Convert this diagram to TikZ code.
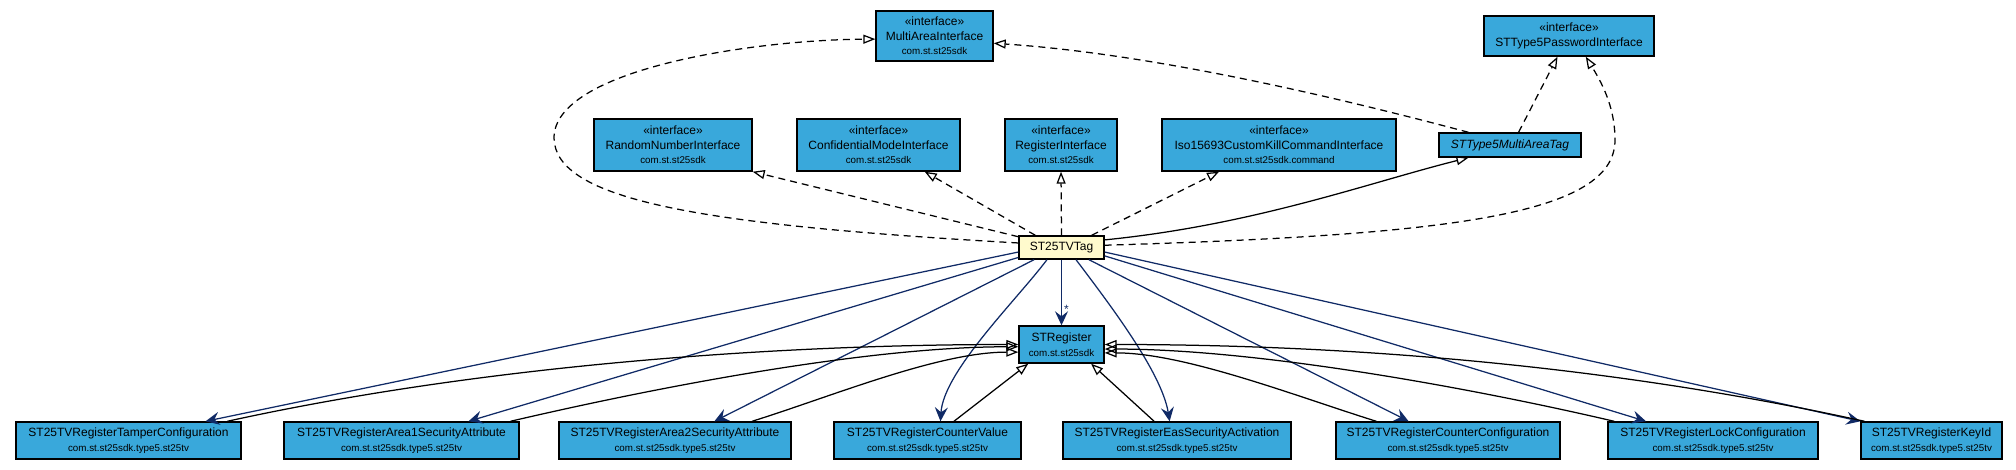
\documentclass[tikz,border=0pt]{standalone}
\usepackage{fontspec}
\setmainfont{Liberation Sans}
\usepackage{tikz}
\usetikzlibrary{arrows.meta}
\definecolor{clsblue}{RGB}{57,168,219}
\definecolor{tagyel}{RGB}{255,250,205}
\definecolor{ascnavy}{RGB}{16,42,102}
\newcommand{\pkg}[1]{{\fontsize{9.8}{12}\selectfont #1}}
\newcommand{\stereo}{«interface»}
\newcommand{\tvpkg}{\pkg{com.st.st25sdk.type5.st25tv}}
\tikzset{
  cls/.style={draw=black, line width=1.4pt, fill=clsblue, align=center, inner sep=0pt,
    minimum height=37pt, font=\fontsize{12}{14.5}\selectfont},
  ifc/.style={cls, minimum height=52pt},
  tagcls/.style={cls, fill=tagyel, minimum height=23pt},
  real/.style={dash pattern=on 7pt off 5pt, line width=1.25pt, -{Triangle[open, length=12pt, width=9pt]}},
  gen/.style={line width=1.25pt, -{Triangle[open, length=12pt, width=9pt]}},
  asc/.style={ascnavy, line width=1.25pt, -{Stealth[length=14pt, width=13pt, inset=5pt]}},
  mult/.style={font=\fontsize{12}{12}\selectfont, inner sep=2pt, ascnavy},
}
\begin{document}
\begin{tikzpicture}[x=1pt, y=-1pt]
  \useasboundingbox (0,0) rectangle (2016,469);
  \node[ifc, minimum width=117pt, minimum height=50pt] (mai) at (934.5,36) {\stereo\\MultiAreaInterface\\\pkg{com.st.st25sdk}};
  \node[cls, minimum width=170pt, minimum height=40pt] (pwd) at (1569,36) {\stereo\\STType5PasswordInterface};
  \node[cls, minimum width=142pt, minimum height=24pt, font=\fontsize{12}{14.5}\selectfont\itshape] (matag) at (1510,145) {STType5MultiAreaTag};
  \node[ifc, minimum width=158pt] (rni) at (673,145) {\stereo\\RandomNumberInterface\\\pkg{com.st.st25sdk}};
  \node[ifc, minimum width=163pt] (cmi) at (878.5,145) {\stereo\\ConfidentialModeInterface\\\pkg{com.st.st25sdk}};
  \node[ifc, minimum width=112pt] (rgi) at (1061,145) {\stereo\\RegisterInterface\\\pkg{com.st.st25sdk}};
  \node[ifc, minimum width=234pt] (iso) at (1279,145) {\stereo\\Iso15693CustomKillCommandInterface\\\pkg{com.st.st25sdk.command}};
  \node[tagcls, minimum width=85pt] (tag) at (1061.5,247.5) {ST25TVTag};
  \node[cls, minimum width=85pt] (streg) at (1061.5,344.5) {STRegister\\\pkg{com.st.st25sdk}};
  \node[cls, minimum width=225pt] (tamper) at (128.5,440.5) {ST25TVRegisterTamperConfiguration\\\tvpkg};
  \node[cls, minimum width=235pt] (area1) at (401.5,440.5) {ST25TVRegisterArea1SecurityAttribute\\\tvpkg};
  \node[cls, minimum width=232pt] (area2) at (675,440.5) {ST25TVRegisterArea2SecurityAttribute\\\tvpkg};
  \node[cls, minimum width=187pt] (cval) at (927.5,440.5) {ST25TVRegisterCounterValue\\\tvpkg};
  \node[cls, minimum width=228pt] (eas) at (1177,440.5) {ST25TVRegisterEasSecurityActivation\\\tvpkg};
  \node[cls, minimum width=224pt] (ccfg) at (1448,440.5) {ST25TVRegisterCounterConfiguration\\\tvpkg};
  \node[cls, minimum width=210pt] (lock) at (1713,440.5) {ST25TVRegisterLockConfiguration\\\tvpkg};
  \node[cls, minimum width=141pt] (keyid) at (1931.5,440.5) {ST25TVRegisterKeyId\\\tvpkg};

  \draw[real] (tag.174) .. controls (700,225) and (555,200) .. (554,138) .. controls (554,70) and (750,40) .. (mai.183);
  \draw[real] (matag.163) .. controls +(-150,-40) and +(150,10) .. (mai.353);
  \draw[real] (matag.56) -- (pwd.241);
  \draw[real] (tag.3) .. controls (1450,235) and (1615,215) .. (1615,140) .. controls (1615,105) and (1600,80) .. (pwd.309);
  \draw[real] (tag.166) -- (rni.south east);
  \draw[real] (tag.155) -- (cmi.330);
  \draw[real] (tag.north) -- (rgi.south);
  \draw[real] (tag.22) -- (iso.204);
  \draw[gen] (tag.10) .. controls +(150,-15) and +(-100,25) .. (matag.197);

  \draw[asc] (tag.south) -- node[mult, pos=.76, anchor=west] {*} (streg.north);
  \draw[asc] (tag.186) -- (tamper.14);
  \draw[asc] (tag.193) -- (area1.16);
  \draw[asc] (tag.204) -- (area2.26);
  \draw[asc] (tag.220) .. controls +(-30,40) and +(3,-50) .. (cval.56);
  \draw[asc] (tag.320) .. controls +(30,40) and +(-8,-50) .. (eas.111);
  \draw[asc] (tag.336) -- (ccfg.154);
  \draw[asc] (tag.349) -- (lock.164);
  \draw[asc] (tag.354) -- (keyid.north west);

  \draw[gen] (tamper.11) .. controls +(250,-55) and +(-250,0) .. (streg.180);
  \draw[gen] (area1.10) .. controls +(150,-35) and +(-150,0) .. (streg.183);
  \draw[gen] (area2.14) .. controls +(80,-25) and +(-80,0) .. (streg.190);
  \draw[gen] (cval.36) -- (streg.210);
  \draw[gen] (eas.140) -- (streg.327);
  \draw[gen] (ccfg.165) .. controls +(-80,-25) and +(80,0) .. (streg.349);
  \draw[gen] (lock.169) .. controls +(-150,-35) and +(150,0) .. (streg.354);
  \draw[gen] (keyid.164) .. controls +(-250,-55) and +(250,0) .. (streg.0);
\end{tikzpicture}
\end{document}
